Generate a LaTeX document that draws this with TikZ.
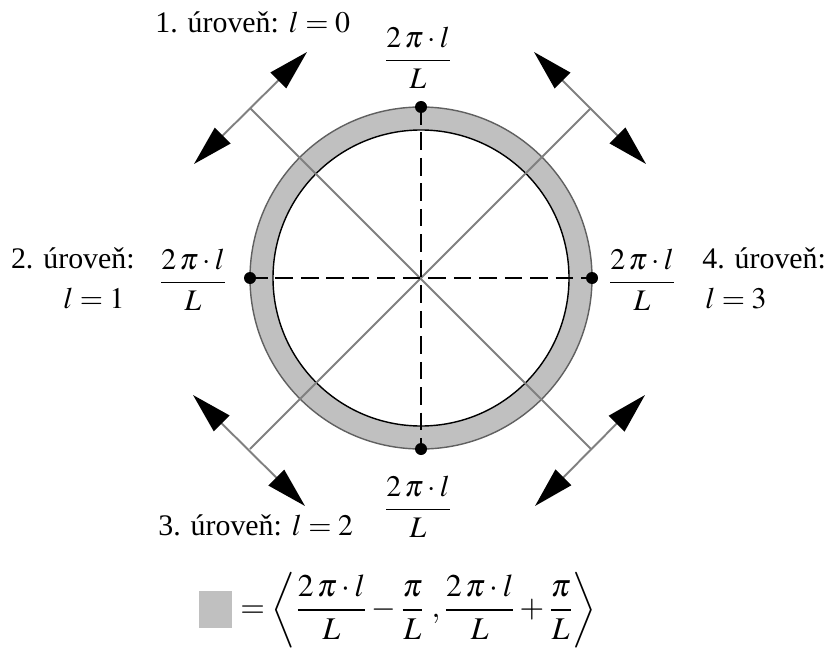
\documentclass[tikz,border=0pt]{standalone}
\usepackage{mathptmx}
\usepackage{amsmath}
\usepackage{fontspec}
\setmainfont{Liberation Serif}
\definecolor{ringgray}{RGB}{192,192,192}
\definecolor{linegray}{RGB}{128,128,128}
\definecolor{edgegray}{RGB}{96,96,96}
\usepackage{tikz}
\usetikzlibrary{arrows.meta}
\tikzset{
  diagline/.style={draw=linegray,line width=1.1pt},
  dblarrow/.style={draw=linegray,line width=1.1pt,
                   {Triangle[length=23pt,width=12.5pt,color=black]}-{Triangle[length=23pt,width=12.5pt,color=black]}},
  dashline/.style={draw=black,line width=1.1pt,dash pattern=on 10pt off 4.5pt},
  levtext/.style={font=\fontsize{17}{20}\selectfont,inner sep=0pt},
  fractext/.style={font=\fontsize{17}{20}\selectfont,inner sep=0pt}
}
\newcommand{\angfrac}{\dfrac{2\,\pi\cdot l}{L}}

\begin{document}
\begin{tikzpicture}[x=0.02cm,y=-0.02cm]
  \useasboundingbox (0,0) rectangle (830,655);
  % centre and ring
  \coordinate (c) at (421,278);
  \fill[ringgray] (c) circle[radius=171];
  \draw[edgegray,line width=0.8pt] (c) circle[radius=171];
  \draw[black,fill=white,line width=0.8pt] (c) circle[radius=148];
  % points on the ring
  \coordinate (dt) at (421,107);
  \coordinate (db) at (421,449);
  \coordinate (dl) at (250,278);
  \coordinate (dr) at (592,278);
  % corners of the diagonals
  \coordinate (nw) at (250,108);
  \coordinate (ne) at (591,108);
  \coordinate (sw) at (250,449);
  \coordinate (se) at (591,449);
  \draw[diagline] (nw) -- (se);
  \draw[diagline] (ne) -- (sw);
  % double arrows
  \draw[dblarrow] ([shift={(57,-56)}]nw) -- ([shift={(-56,56)}]nw);
  \draw[dblarrow] ([shift={(-57,-56)}]ne) -- ([shift={(55,56)}]ne);
  \draw[dblarrow] ([shift={(-57,-54)}]sw) -- ([shift={(55,57)}]sw);
  \draw[dblarrow] ([shift={(54,-54)}]se) -- ([shift={(-56,57)}]se);
  % dashed axes
  \draw[dashline] (dl) -- (dr);
  \draw[dashline] (dt) -- (db);
  \foreach \p in {dt,db,dl,dr}
    \fill[black] (\p) circle[radius=6];
  % fractions
  \node[fractext] (ftop) at (418,58) {$\angfrac$};
  \node[fractext] (fbot) at (418,507) {$\angfrac$};
  \node[fractext] (fleft) at (193,280) {$\angfrac$};
  \node[fractext] (fright) at (642,280) {$\angfrac$};
  % level labels
  \node[levtext,anchor=base west] (lev1) at (155,33) {1. úroveň: $l=0$};
  \node[levtext,anchor=base east] (lev2a) at (135,268) {2. úroveň:};
  \node[levtext,anchor=base east] (lev2b) at (125,308) {$l=1$};
  \node[levtext,anchor=base west] (lev3) at (158,535) {3. úroveň: $l=2$};
  \node[levtext,anchor=base west] (lev4a) at (702,268) {4. úroveň:};
  \node[levtext,anchor=base west] (lev4b) at (705,308) {$l=3$};
  % legend
  \node[fill=ringgray,minimum width=0.66cm,minimum height=0.74cm,inner sep=0pt] (key) at (215,609) {};
  \node[font=\fontsize{18}{21}\selectfont,inner sep=0pt,anchor=west] (keyeq) at (240,610)
    {$=\left\langle\angfrac-\dfrac{\pi}{L}\;,\angfrac+\dfrac{\pi}{L}\right\rangle$};
\end{tikzpicture}
\end{document}
